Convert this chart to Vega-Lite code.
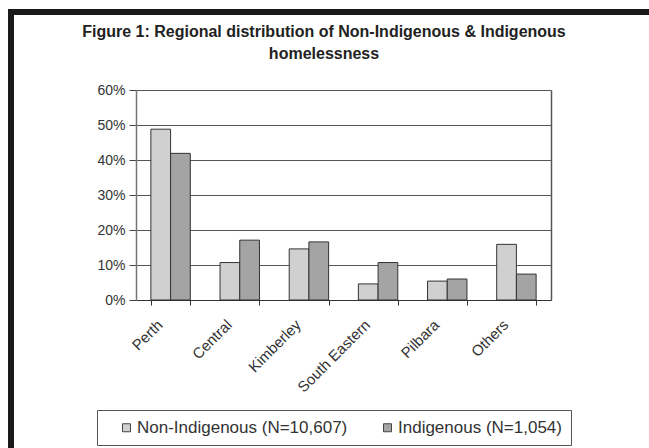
{
  "$schema": "https://vega.github.io/schema/vega-lite/v6.json",
  "width": 638,
  "height": 436,
  "autosize": {"type": "none"},
  "padding": {"left": 11, "top": 12, "right": 0, "bottom": 0},
  "background": "white",
  "title": {
    "text": ["Figure 1: Regional distribution of Non-Indigenous & Indigenous", "homelessness"],
    "anchor": "middle",
    "frame": "group",
    "offset": -50,
    "dx": -6,
    "fontSize": 16,
    "font": "Liberation Sans",
    "fontWeight": "bold",
    "color": "#222",
    "lineHeight": 22
  },
  "data": {
    "values": [
      {"region": "Perth", "group": "Non-Indigenous (N=10,607)", "value": 0.488},
      {"region": "Perth", "group": "Indigenous (N=1,054)", "value": 0.419},
      {"region": "Central", "group": "Non-Indigenous (N=10,607)", "value": 0.107},
      {"region": "Central", "group": "Indigenous (N=1,054)", "value": 0.171},
      {"region": "Kimberley", "group": "Non-Indigenous (N=10,607)", "value": 0.146},
      {"region": "Kimberley", "group": "Indigenous (N=1,054)", "value": 0.166},
      {"region": "South Eastern", "group": "Non-Indigenous (N=10,607)", "value": 0.046},
      {"region": "South Eastern", "group": "Indigenous (N=1,054)", "value": 0.107},
      {"region": "Pilbara", "group": "Non-Indigenous (N=10,607)", "value": 0.054},
      {"region": "Pilbara", "group": "Indigenous (N=1,054)", "value": 0.06},
      {"region": "Others", "group": "Non-Indigenous (N=10,607)", "value": 0.159},
      {"region": "Others", "group": "Indigenous (N=1,054)", "value": 0.074}
    ]
  },
  "layer": [
    {
      "mark": {"type": "bar", "stroke": "#333", "strokeWidth": 1},
      "encoding": {
        "x": {
          "field": "region", "type": "nominal", "sort": null,
          "scale": {"range": [125, 540], "paddingInner": 0.43, "paddingOuter": 0.215},
          "axis": {
            "orient": "bottom", "offset": -148, "title": null, "labelAngle": -45,
            "tickBand": "extent", "tickSize": 5, "domainColor": "#333", "tickColor": "#333",
            "labelFontSize": 15, "labelFont": "Liberation Sans", "labelColor": "#333", "labelPadding": 12, "labelOffset": -16, "grid": false
          }
        },
        "xOffset": {"field": "group", "type": "nominal", "sort": ["Non-Indigenous (N=10,607)", "Indigenous (N=1,054)"]},
        "y": {
          "field": "value", "type": "quantitative",
          "scale": {"domain": [0, 0.6], "range": [288, 78], "nice": false},
          "axis": {
            "orient": "left", "offset": -125, "title": null, "format": ".0%",
            "values": [0, 0.1, 0.2, 0.3, 0.4, 0.5, 0.6],
            "grid": true, "gridColor": "#555", "gridWidth": 1,
            "domainColor": "#777", "domainWidth": 1.5, "tickColor": "#444", "tickSize": 7,
            "labelPadding": 4, "labelFontSize": 14, "labelFont": "Liberation Sans", "labelColor": "#333"
          }
        },
        "color": {
          "field": "group", "type": "nominal",
          "scale": {"domain": ["Non-Indigenous (N=10,607)", "Indigenous (N=1,054)"], "range": ["#d0d0d0", "#a4a4a4"]},
          "legend": {
            "orient": "none", "legendX": 86, "legendY": 398, "direction": "horizontal",
            "title": "\u00a0", "titleOrient": "left", "titlePadding": 12, "titleFontSize": 10,
            "symbolType": "square", "symbolSize": 64, "symbolStrokeColor": "#444", "symbolStrokeWidth": 1,
            "labelFontSize": 17, "labelFont": "Liberation Sans", "labelColor": "#333", "labelOffset": 2, "labelLimit": 400,
            "labelExpr": "datum.label == 'Indigenous (N=1,054)' ? datum.label + '\u00a0\u00a0\u00a0\u00a0\u00a0\u00a0\u00a0' : datum.label",
            "columnPadding": 31, "padding": 9, "strokeColor": "#555", "fillColor": "white"
          }
        }
      }
    },
    {
      "mark": {"type": "bar", "opacity": 0},
      "encoding": {
        "x": {"field": "region", "type": "nominal", "sort": null},
        "xOffset": {"field": "group", "type": "nominal", "sort": ["Non-Indigenous (N=10,607)", "Indigenous (N=1,054)"]},
        "y": {
          "field": "value", "type": "quantitative",
          "axis": {"orient": "right", "offset": -98, "title": null, "labels": false, "ticks": false, "grid": false, "domainColor": "#555", "domainWidth": 1.5}
        }
      }
    }
  ],
  "resolve": {"axis": {"y": "independent"}},
  "config": {
    "view": {"stroke": "#1a1a1a", "strokeWidth": 6, "strokeCap": "square", "strokeDash": [638, 1074, 436, 0], "fill": "white"}
  }
}
